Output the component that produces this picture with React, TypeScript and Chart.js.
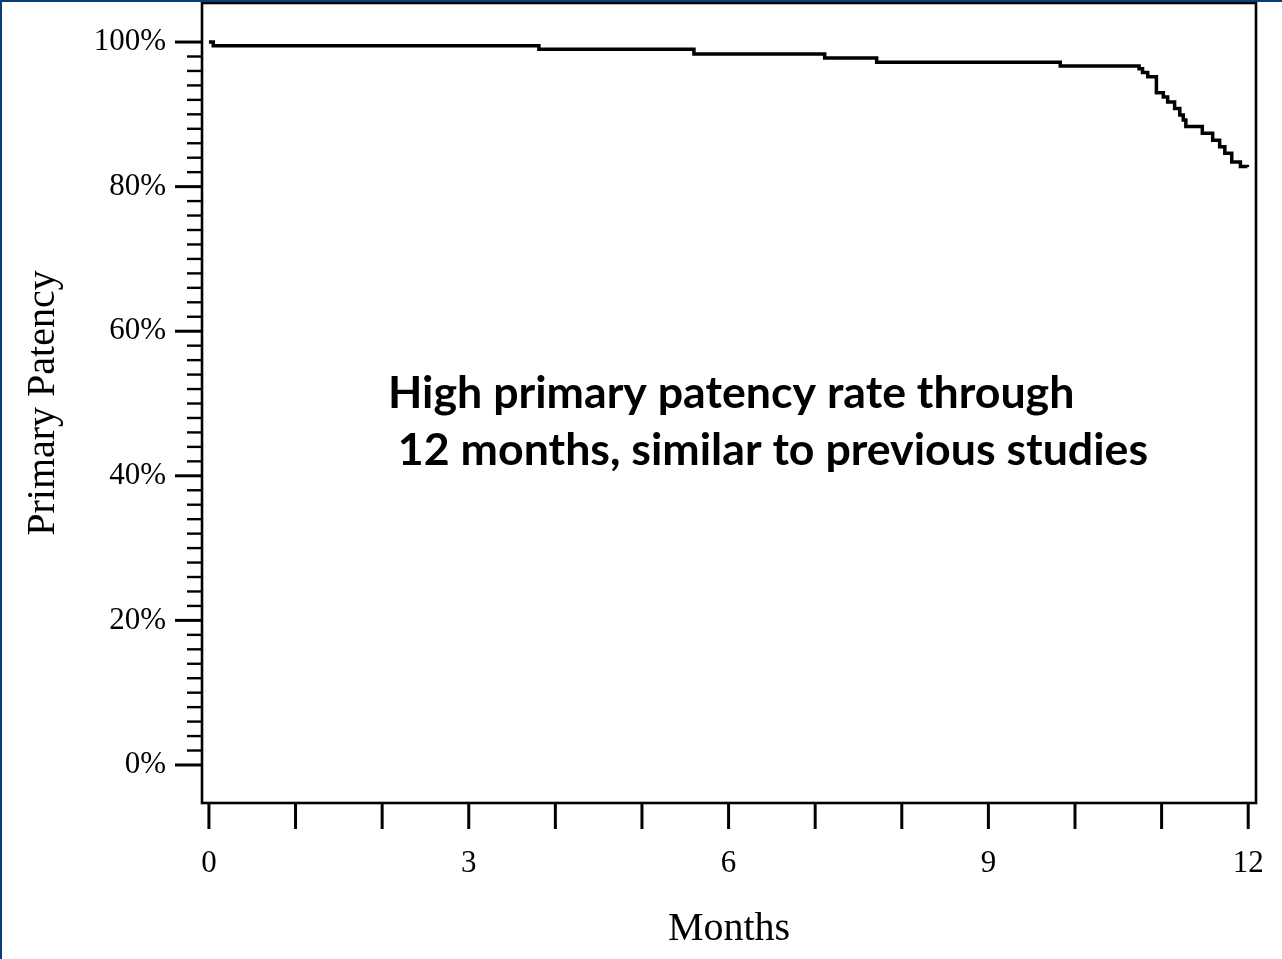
import React, { useEffect, useRef } from "react";
import { Chart, registerables } from "chart.js";

Chart.register(...registerables);

// Kaplan-Meier step data (months, % patent)
const monthsAt = [0, 0.05, 3.81, 5.6, 7.11, 7.71, 9.83, 10.74, 10.78, 10.84, 10.94, 11.02, 11.07, 11.15, 11.21, 11.25, 11.28, 11.47, 11.59, 11.67, 11.73, 11.81, 11.91, 11.99];
const patency = [100, 99.5, 99.0, 98.35, 97.8, 97.2, 96.7, 96.3, 95.8, 95.2, 93.0, 92.4, 91.7, 90.8, 89.9, 89.2, 88.3, 87.4, 86.4, 85.5, 84.6, 83.4, 82.8, 82.7];

const xTickValues = [0, 1, 2, 3, 4, 5, 6, 7, 8, 9, 10, 11, 12];
const xLabelValues = [0, 3, 6, 9, 12];
const yTickValues = [0, 20, 40, 60, 80, 100];
const yMinorStep = 2;

const xTitle = "Months";
const yTitle = "Primary Patency";
const annotationLines = ["High primary patency rate through", " 12 months, similar to previous studies"];

const SERIF = "'Liberation Serif', 'Times New Roman', serif";

const decorPlugin = {
  id: "decor",
  afterDraw(chart: any) {
    const { ctx, chartArea: a, scales } = chart;
    const xs = scales.x;
    const ys = scales.y;
    ctx.save();
    ctx.strokeStyle = "#000";
    ctx.lineCap = "butt";
    // plot frame
    ctx.lineWidth = 2.6;
    ctx.strokeRect(a.left, a.top, a.right - a.left, a.bottom - a.top);
    // y ticks (major + minor)
    for (let v = 0; v <= 100; v += yMinorStep) {
      const py = ys.getPixelForValue(v);
      const major = yTickValues.includes(v);
      ctx.lineWidth = major ? 3 : 2.4;
      ctx.beginPath();
      ctx.moveTo(a.left - (major ? 27 : 15), py);
      ctx.lineTo(a.left, py);
      ctx.stroke();
    }
    // x ticks
    for (const v of xTickValues) {
      const px = xs.getPixelForValue(v);
      ctx.lineWidth = 3;
      ctx.beginPath();
      ctx.moveTo(px, a.bottom);
      ctx.lineTo(px, a.bottom + 26);
      ctx.stroke();
    }
    // annotation
    ctx.fillStyle = "#000";
    ctx.font = "bold 44.7px Lato";
    ctx.textBaseline = "alphabetic";
    ctx.textAlign = "left";
    ctx.fillText(annotationLines[0], 388, 408);
    ctx.fillText(annotationLines[1], 387, 465);
    ctx.restore();
  },
};

export default function App() {
  const canvasRef = useRef<HTMLCanvasElement | null>(null);

  useEffect(() => {
    document.body.style.margin = "0";
    const canvas = canvasRef.current;
    if (!canvas) return;
    const chart = new Chart(canvas, {
      type: "line",
      data: {
        datasets: [
          {
            data: monthsAt.map((m, i) => ({ x: m, y: patency[i] })),
            borderColor: "#000",
            borderWidth: 3.5,
            pointRadius: 0,
            stepped: "before",
            fill: false,
          },
        ],
      },
      options: {
        responsive: false,
        animation: false,
        events: [],
        layout: { padding: { left: 0, top: 3, right: 26, bottom: 0 } },
        plugins: { legend: { display: false }, tooltip: { enabled: false } },
        scales: {
          x: {
            type: "linear",
            min: -0.08,
            max: 12.09,
            afterBuildTicks: (s: any) => {
              s.ticks = xTickValues.map((v) => ({ value: v }));
            },
            afterFit: (s: any) => {
              s.height = 156;
              s.paddingLeft = 0;
              s.paddingRight = 0;
            },
            ticks: {
              autoSkip: false,
              maxRotation: 0,
              padding: 42,
              color: "#000",
              font: { family: SERIF, size: 31 },
              callback: (v: any) => (xLabelValues.includes(Number(v)) ? String(v) : ""),
            },
            grid: { display: false, drawTicks: false },
            border: { display: false },
            title: {
              display: true,
              text: xTitle,
              color: "#000",
              font: { family: SERIF, size: 40 },
              padding: { top: 0, bottom: 6 },
            },
          },
          y: {
            type: "linear",
            min: -5.26,
            max: 105.4,
            afterBuildTicks: (s: any) => {
              s.ticks = yTickValues.map((v) => ({ value: v }));
            },
            afterFit: (s: any) => {
              s.width = 202;
              s.paddingTop = 0;
              s.paddingBottom = 0;
            },
            ticks: {
              padding: 36,
              color: "#000",
              font: { family: SERIF, size: 31 },
              callback: (v: any) => `${v}%`,
            },
            grid: { display: false, drawTicks: false },
            border: { display: false },
            title: {
              display: true,
              text: yTitle,
              color: "#000",
              font: { family: SERIF, size: 40 },
              padding: { top: 19, bottom: 0 },
            },
          },
        },
      },
      plugins: [decorPlugin],
    } as any);
    return () => chart.destroy();
  }, []);

  return (
    <div style={{ position: "fixed", left: 0, top: 0, width: 1282, height: 959, background: "#fff" }}>
      <canvas ref={canvasRef} width={1282} height={959} style={{ display: "block", width: 1282, height: 959 }} />
      <div
        style={{
          position: "absolute",
          inset: 0,
          borderLeft: "2px solid #0b3d78",
          borderTop: "2px solid #0b3d78",
          pointerEvents: "none",
        }}
      />
    </div>
  );
}
